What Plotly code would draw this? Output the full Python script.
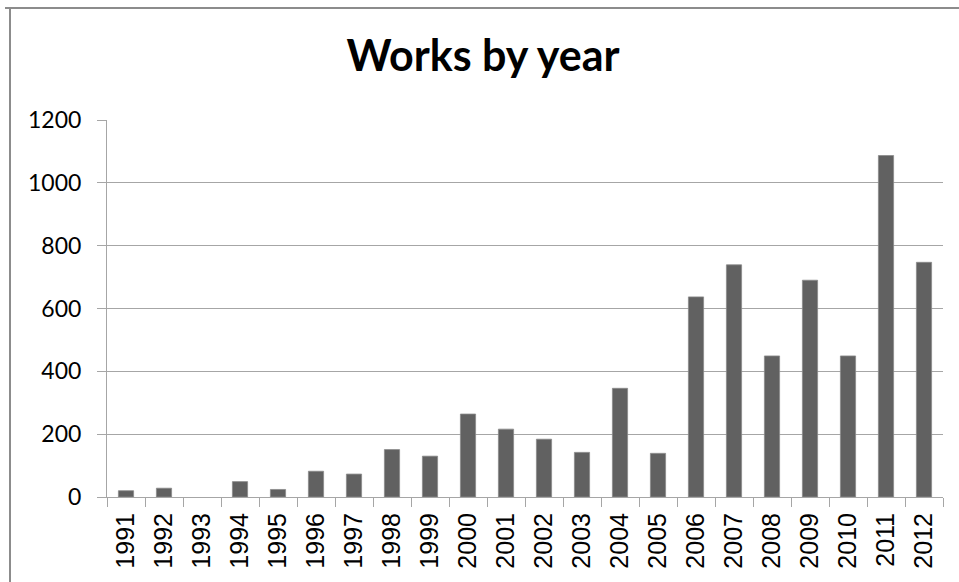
import plotly.graph_objects as go

years = [str(y) for y in range(1991, 2013)]
works = [20, 28, 0, 49, 24, 82, 73, 151, 130, 264, 216, 184, 142, 346, 139, 637, 739, 449, 690, 449, 1087, 747]
y_ticks = [0, 200, 400, 600, 800, 1000, 1200]

W, H = 959, 582
L, R, T, B = 107, 943, 120, 497

def px_x(p):
    return (p - L) / (R - L)

def px_y(p):
    return (B - p) / (B - T)

fig = go.Figure(go.Bar(
    x=years, y=works,
    marker=dict(color="#616161",
                line=dict(color="#8a8a8a", width=[0 if v == 0 else 0.8 for v in works])),
    width=0.4,
))

border = "#8c8c8c"
fig.update_layout(
    width=W, height=H,
    margin=dict(l=L, r=W - R, t=T, b=H - B),
    paper_bgcolor="white", plot_bgcolor="white",
    showlegend=False,
    title=dict(text="<b>Works by year</b>", x=483 / W, xanchor="center",
               y=1 - 56 / H, yanchor="middle",
               font=dict(family="Lato", size=43, color="black")),
    xaxis=dict(type="category", tickson="boundaries", ticks="outside", ticklen=9,
               tickcolor="#a6a6a6", showline=True, linecolor="#a6a6a6", linewidth=1,
               showgrid=False, tickangle=-90, ticklabelstandoff=5,
               tickfont=dict(family="Liberation Sans", size=25, color="black")),
    yaxis=dict(range=[0, 1200], tickvals=y_ticks, ticks="outside", ticklen=9,
               tickcolor="#a6a6a6", showline=True, linecolor="#a6a6a6", linewidth=1,
               showgrid=True, gridcolor="#a6a6a6", gridwidth=1, zeroline=False,
               ticklabelstandoff=11,
               tickfont=dict(family="Lato", size=23, color="black")),
    shapes=[
        dict(type="line", xref="paper", yref="paper", x0=px_x(10), x1=px_x(10),
             y0=px_y(8), y1=px_y(600), line=dict(color=border, width=2)),
        dict(type="line", xref="paper", yref="paper", x0=px_x(5), x1=px_x(970),
             y0=px_y(8), y1=px_y(8), line=dict(color=border, width=2)),
    ],
)

fig.write_html("out.html")
